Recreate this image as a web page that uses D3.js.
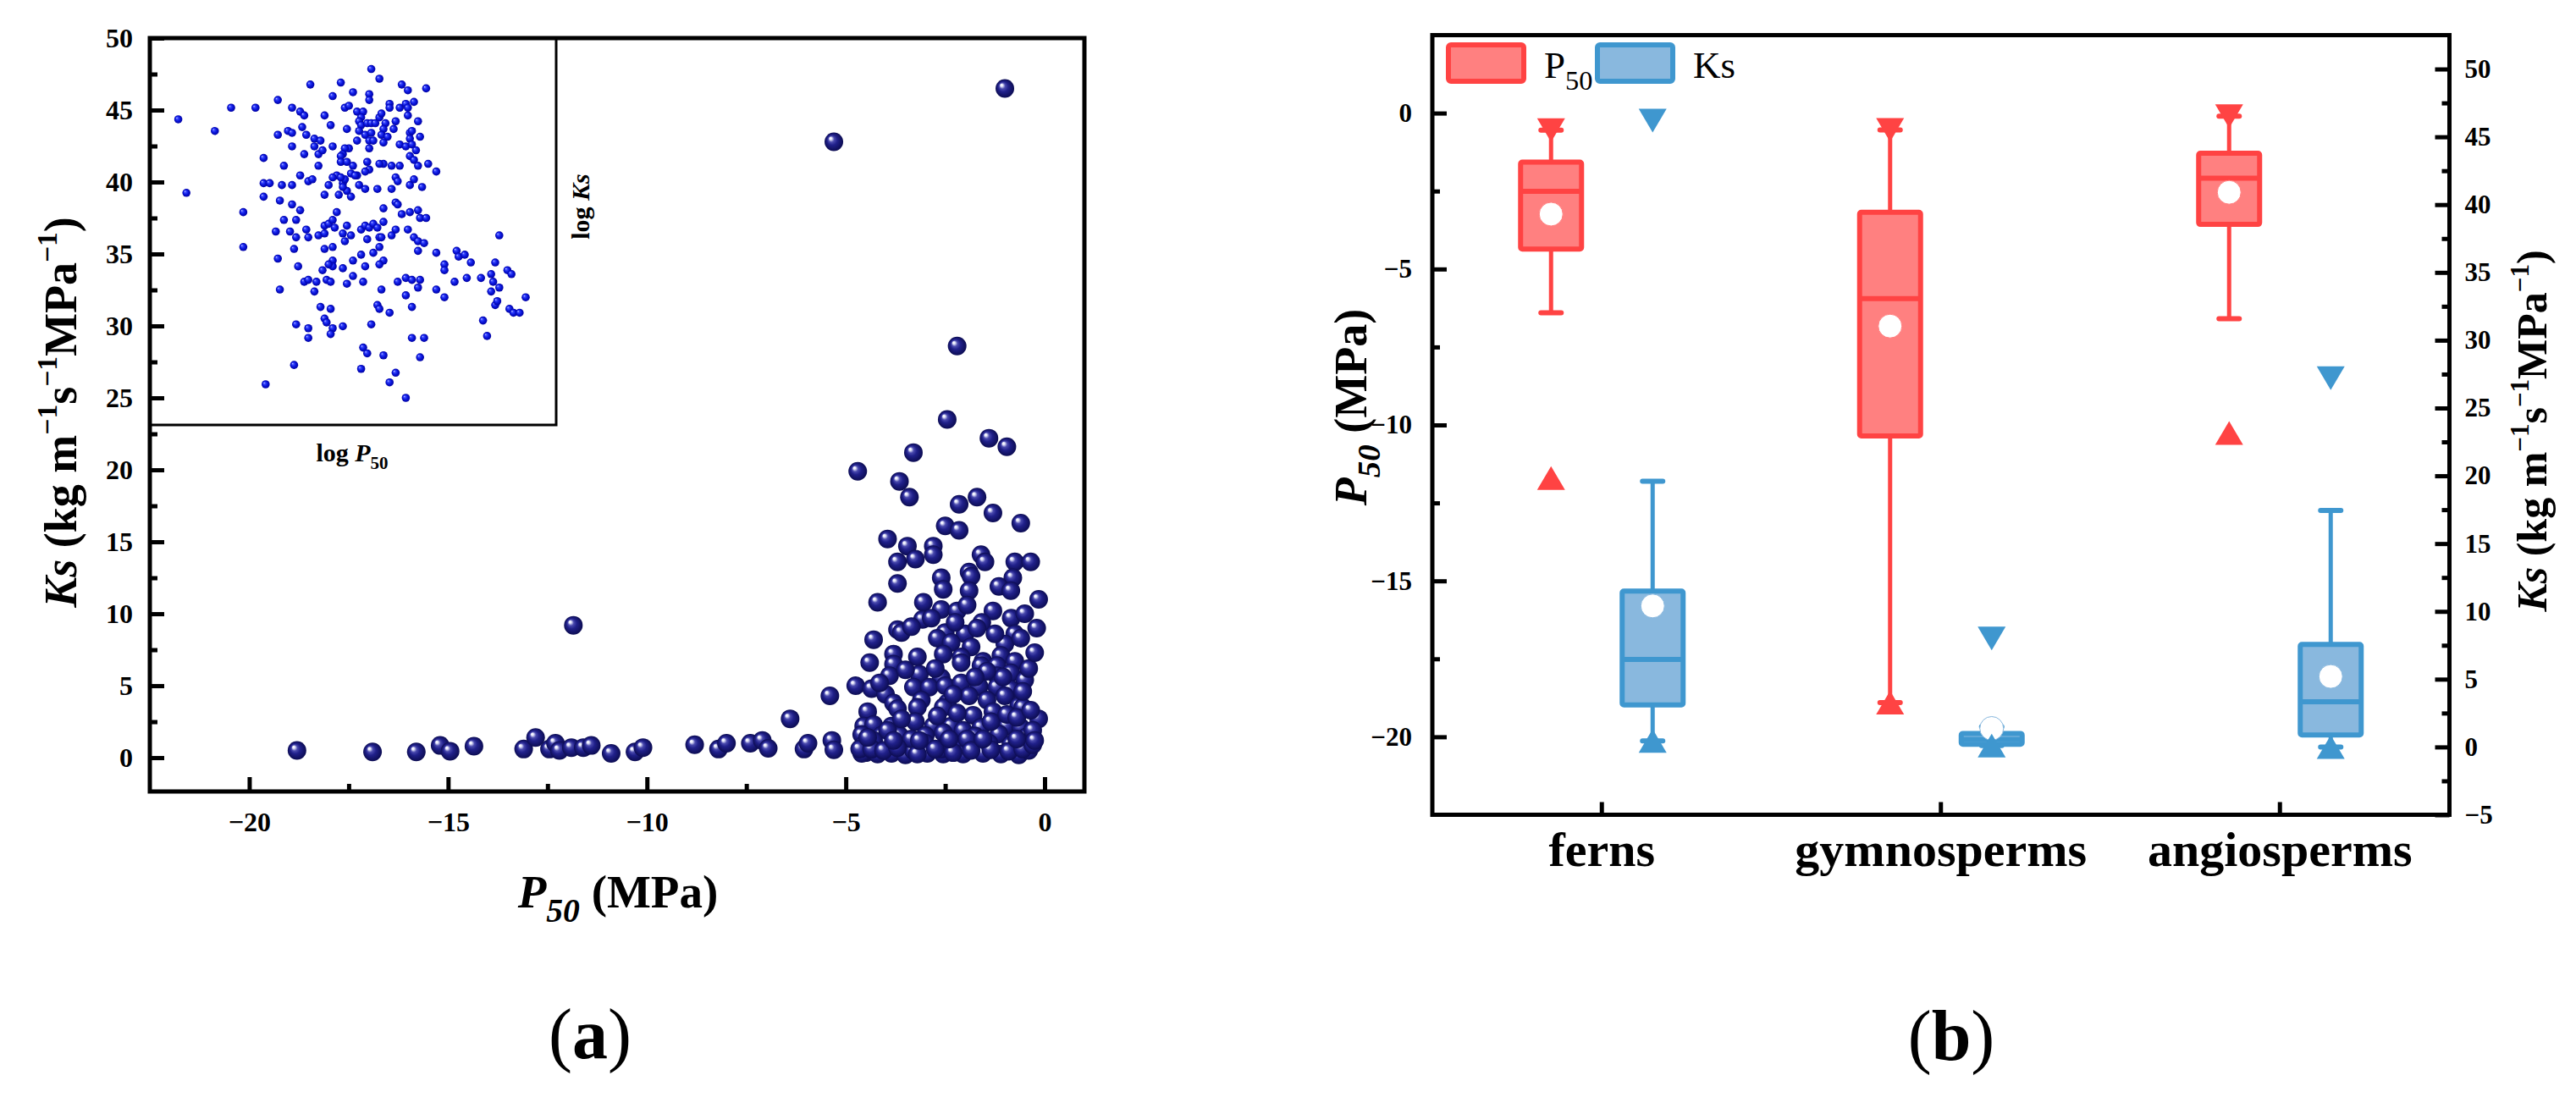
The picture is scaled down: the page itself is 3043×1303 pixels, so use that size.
<!DOCTYPE html>
<html>
<head>
<meta charset="utf-8">
<script src="https://cdn.jsdelivr.net/npm/d3@7"></script>
<style>
  body { margin: 0; background: #fff; }
  svg { display: block; }
  text { font-family: "Liberation Serif", "Times New Roman", serif; fill: #000; }
</style>
</head>
<body>
<svg id="chart" width="3043" height="1303"></svg>
<script>
// ---- data (a): P50 (MPa) vs Ks ----
const mainPoints = [
  [-18.8,0.5],[-16.9,0.4],[-15.8,0.4],[-15.2,0.85],[-14.95,0.45],[-14.35,0.8],[-13.1,0.6],[-12.8,1.4],
  [-12.45,0.6],[-12.3,1.0],[-12.2,0.5],[-11.9,0.7],[-11.6,0.7],[-11.4,0.85],[-10.9,0.3],[-10.3,0.4],
  [-10.1,0.7],[-8.8,0.9],[-8.2,0.6],[-8.0,1.0],[-7.4,1.0],[-7.1,1.2],[-6.95,0.65],[-6.4,2.7],
  [-6.05,0.6],[-5.95,1.0],[-5.4,4.3],[-5.35,1.2],[-5.3,0.55],[-4.75,5.0],[-11.85,9.2],[-5.3,42.8],[-1.0,46.5],
  [-2.2,28.6],[-2.45,23.5],[-1.4,22.2],[-0.95,21.6],[-3.3,21.2],[-4.7,19.9],[-3.65,19.2],[-3.4,18.1],
  [-1.7,18.1],[-2.15,17.6],[-1.3,17.0],[-0.6,16.3],[-2.5,16.1],[-2.15,15.8],[-3.95,15.2],[-3.45,14.7],
  [-2.8,14.7],[-3.7,13.6],[-3.25,13.8],[-2.8,14.1],[-1.6,14.1],[-1.5,13.6],[-0.75,13.6],[-0.35,13.6],
  [-1.9,12.9],[-1.85,12.6],[-2.6,12.5],[-0.8,12.5],[-3.7,12.1],[-2.55,11.7],[-1.9,11.6],[-1.15,11.9],
  [-0.85,11.6],[-4.2,10.8],[-3.05,10.8],[-0.15,11.0],[-2.6,10.3],[-2.2,10.2],[-1.95,10.6],[-1.3,10.2],
  [-3.07,9.6],[-2.85,9.7],[-1.58,9.4],[-0.84,9.7],[-3.7,8.9],[-3.6,8.7],[-2.5,8.7],[-2.0,8.6],
  [-0.2,9.0],[-0.75,8.6],[-4.3,8.2],[-2.7,8.3],[-2.35,8.0],[-1.85,7.7],[-1.0,7.9],[-0.6,8.3],
  [-3.8,7.2],[-3.2,7.0],[-2.55,7.2],[-2.1,7.0],[-1.55,6.7],[-1.1,7.1],[-4.4,6.6],[-3.8,6.5],
  [-2.1,6.6],[-1.6,6.4],[-1.2,6.4],[-0.75,6.7],[-3.9,5.7],[-3.15,5.8],[-2.6,5.55],[-1.2,5.7],
  [-0.85,5.9],[-0.5,5.4],[-4.35,4.8],[-3.3,4.9],[-2.9,4.9],[-2.5,5.0],[-2.1,5.2],[-1.65,4.95],
  [-1.2,4.9],[-0.85,4.75],[-4.0,4.4],[-3.8,3.8],[-3.1,4.0],[-2.45,3.8],[-1.9,4.3],[-1.45,4.0],
  [-1.0,4.3],[-0.65,3.6],[-4.45,3.2],[-3.7,3.4],[-3.2,3.5],[-2.55,3.5],[-1.8,2.95],[-1.3,3.2],
  [-0.55,3.5],[-0.15,2.7],[-4.55,2.2],[-4.3,2.3],[-3.85,2.2],[-3.25,2.5],[-2.8,2.2],[-2.35,2.2],
  [-2.05,1.9],[-1.6,2.1],[-0.95,2.2],[-0.6,2.1],[-4.6,1.6],[-4.1,1.55],[-3.65,1.55],[-3.0,1.55],
  [-2.55,1.75],[-1.75,1.5],[-1.15,1.65],[-0.45,1.45],[-4.55,0.9],[-4.0,0.95],[-3.45,0.9],[-3.0,1.0],
  [-2.25,0.9],[-1.7,1.0],[-0.85,0.9],[-0.5,1.0],[-4.5,0.35],[-4.2,0.25],[-3.85,0.3],[-3.5,0.2],
  [-2.95,0.3],[-2.55,0.25],[-2.05,0.25],[-1.55,0.3],[-1.1,0.25],[-0.65,0.2],[-2.6,0.6],[-3.3,0.5],
  [-4.6,0.3],[-4.3,1.2],[-3.95,1.9],[-3.6,2.7],[-3.35,1.3],[-2.7,2.9],[-2.2,3.1],[-1.95,1.3],
  [-1.4,1.0],[-1.35,2.5],[-0.95,3.0],[-0.7,2.8],[-0.4,0.5],[-0.3,1.9],[-0.35,3.3],[-0.55,4.6],
  [-1.05,5.6],[-1.45,6.0],[-1.75,5.6],[-2.3,4.4],[-2.75,6.2],[-3.5,6.1],[-4.15,5.2],[-0.4,6.2],
  [-0.25,7.3],[-1.25,8.6],[-1.7,9.0],[-2.25,9.4],[-3.35,9.1],[-0.5,10.0],
  [-4.65,0.6],[-4.35,0.6],[-4.05,0.5],[-3.7,0.7],[-3.2,0.25],[-2.75,0.6],[-2.3,0.35],[-1.85,0.5],
  [-1.35,0.55],[-0.9,0.45],[-0.55,0.6],[-0.3,0.9],[-4.45,1.4],[-3.8,1.2],[-3.15,1.2],[-2.4,1.3],
  [-1.55,1.3],[-0.7,1.3],[-0.25,1.2]
];

// inset: log P50 vs log Ks, no ticks, so kept in relative units (0-100 of the inset box)
const insetPoints = [
  [7,79],[16,76],[20,82],[26,82],[9,60],[23,55],[23,46],[28,69],[31.5,84],[31.5,75],[35,82],[37,81],
  [38,80],[37.5,77],[34,76],[35,75.5],[38.5,75],[35,72],[38,70],[40.5,74],[42,73.5],[40.5,72],[41.5,70],
  [42.5,71],[43,80],[44.5,77.5],[45,85],[39.5,88],[47,88.5],[50,86],[54,85.5],[54,84],[54.5,92],
  [56.5,89.5],[62,88],[63.5,86.5],[68,87],[48,82],[49,82.5],[51,81],[52.5,81],[52,79.5],[51.5,78.5],
  [52,77.5],[53.5,78],[54.5,78],[55.5,78],[56.5,79.5],[57,80.5],[58,78],[57.5,76.5],[60,76.5],
  [60.5,78.5],[59,83],[59,82],[61.5,82],[63,83],[63.5,82],[65,83.5],[63.5,80],[66,78.5],[48.5,76.5],
  [51.5,76],[53,75],[54.5,75.5],[57,75],[58.5,74.5],[57.5,73],[54,73.5],[51,73.5],[54,71.5],[55,73.5],
  [61.5,72.5],[63,72],[64,75.5],[64.5,76],[64,74],[66.5,74.5],[64.5,72.5],[65.5,71],[64,69.5],
  [65,68.5],[66,67],[68.5,67.5],[70.5,65.5],[61.5,67],[59.5,67],[57.5,67.5],[56.5,67.5],[53.5,68],
  [54,66],[53,65.5],[49,71.5],[48,71.5],[47.5,70],[47,69.5],[47,68],[48.5,68],[50,67],[45,72],
  [41.5,67],[33,67],[37,64.5],[35,62],[32.5,62],[28,62.5],[29.5,62.5],[28,59],[32,58],[35,57],
  [37,55.5],[39,63],[40,63.5],[43,59.5],[44,62],[46.5,59.5],[48.5,60.5],[49.5,59],[46,64.5],
  [47.5,62.5],[48,63.5],[49.5,65],[51,64.5],[51.5,62],[53,61],[56,61],[59.5,61],[60.5,64],[61,63],
  [64,62],[65,63.5],[67,61.5],[64,55],[62,54.5],[60.5,57.5],[61,57],[57.5,56],[66,55.5],[66.5,53.5],
  [68,53.5],[33,53],[36,53],[31,50],[34.5,50],[36,48.5],[38.5,50.5],[39,48.5],[41.5,49],[43,49.5],
  [43,51.5],[44,52],[45,53],[46,55],[45.5,51],[47.5,49.5],[48.5,51.5],[49.5,49],[52,50.5],[53,51.5],
  [54,51],[55,52],[56,51],[56.5,48.5],[57,48.5],[57.5,52.5],[60.5,50.5],[59.5,49],[63.5,50.5],
  [65,48.5],[66,47.5],[67.5,47],[66,45],[56.5,46],[57.5,42.5],[56.5,41.5],[55,44.5],[53.5,48],
  [52,44],[53,41],[50,42.5],[48,47.5],[45,46],[43,45.5],[35.5,45.5],[31.5,43],[36.5,41],[45,42.5],
  [45,41],[44,41.5],[47.5,40.5],[42.5,40],[50,38.5],[48.5,36.5],[43.5,37.5],[44.5,37],[38,37],
  [39,37.5],[41,37],[32,35],[40.5,34.5],[52.5,37],[57,35],[61,37],[63,38],[64.5,37.5],[66.5,37.5],
  [66,35.5],[63,33.5],[64.5,30.5],[59,29],[56,31],[56.5,30],[54.5,26],[70.5,35],[72.5,33],[70.5,44.5],
  [72.5,41.5],[72.5,40],[75,37],[75.5,45],[76,43.5],[77.5,44],[79,42],[78,38],[81.5,38],[84,39],
  [84.5,37],[85,42],[84,34.5],[86,35.5],[88,40],[89,39],[86,49],[85,31],[85.5,32],[88.5,30],
  [89.5,29],[91,29],[92.5,33],[82,27],[83,23],[42,30.5],[44.5,30],[43,27.5],[43.5,26.5],[45,25],
  [47.5,25.5],[44.5,23.5],[36,26],[39,25],[39,22.5],[35.5,15.5],[28.5,10.5],[52.5,20],[53.5,18.5],
  [57.5,18],[66.5,17.5],[52,14.5],[60.5,13.5],[59,11],[63,7],[64.5,22.5],[67.5,22.5],[45,64],
  [47.5,61.5],[50.5,64.5],[47,64]
];

const xTicksA = [-20, -15, -10, -5, 0];
const xMinorA = [-17.5, -12.5, -7.5, -2.5];
const yTicksA = [0, 5, 10, 15, 20, 25, 30, 35, 40, 45, 50];
const yMinorA = [2.5, 7.5, 12.5, 17.5, 22.5, 27.5, 32.5, 37.5, 42.5, 47.5];

// ---- data (b): box statistics per group ----
const groups = ["ferns", "gymnosperms", "angiosperms"];
const p50Stats = [
  {min: -11.7, lo: -6.4, q1: -4.36, med: -2.51, q3: -1.57, hi: -0.55, max: -0.55, mean: -3.24},
  {min: -18.9, lo: -18.9, q1: -10.35, med: -5.95, q3: -3.18, hi: -0.54, max: -0.54, mean: -6.83},
  {min: -10.26, lo: -6.59, q1: -3.57, med: -2.09, q3: -1.29, hi: -0.1, max: -0.1, mean: -2.54}
];
const ksStats = [
  {min: 0.45, lo: 0.45, q1: 3.1, med: 6.45, q3: 11.5, hi: 19.6, max: 46.2, mean: 10.4},
  {min: 0.1, lo: 0.1, q1: 0.2, med: 0.55, q3: 1.0, hi: 1.5, max: 8.0, mean: 1.37},
  {min: 0.0, lo: 0.0, q1: 0.88, med: 3.33, q3: 7.56, hi: 17.45, max: 27.2, mean: 5.2}
];
const p50Ticks = [-20, -15, -10, -5, 0];
const p50Minor = [-17.5, -12.5, -7.5, -2.5];
const ksTicks = [-5, 0, 5, 10, 15, 20, 25, 30, 35, 40, 45, 50];
const ksMinor = [-2.5, 2.5, 7.5, 12.5, 17.5, 22.5, 27.5, 32.5, 37.5, 42.5, 47.5];

const red = {stroke: "#ff4343", fill: "#ff8080"};
const blue = {stroke: "#3f97cf", fill: "#89b8de"};

let svg = d3.select("#chart");
let defs = svg.append("defs");

function ballGradient(id, stops) {
  let g = defs.append("radialGradient").attr("id", id)
    .attr("cx", "50%").attr("cy", "50%").attr("r", "50%")
    .attr("fx", "30%").attr("fy", "30%");
  stops.forEach(s => g.append("stop").attr("offset", s[0]).attr("stop-color", s[1]));
}
ballGradient("ballMain", [[0, "#ffffff"], [0.12, "#eef0ff"], [0.32, "#4a4aae"], [0.55, "#20208a"], [1, "#0c0c52"]]);
ballGradient("ballInset", [[0, "#c8ceff"], [0.25, "#3a48ff"], [0.6, "#0a16dc"], [1, "#0000a0"]]);

function styleAxis(g, size) {
  g.attr("font-family", "Liberation Serif").attr("font-size", size).attr("font-weight", "bold");
  g.select(".domain").remove();
  g.selectAll(".tick line").attr("stroke", "#000").attr("stroke-width", 5);
  g.selectAll(".tick text").attr("fill", "#000");
}

// rotated / sub-/superscript labels
function richText(parent, segs, size) {
  let t = parent.append("text").style("font-size", size + "px");
  let shift = 0;
  segs.forEach(s => {
    let sp = t.append("tspan").text(s.t);
    let want = s.sup ? -0.42 * size : s.sub ? 0.3 * size : 0;
    if (want !== shift) { sp.attr("dy", want - shift); shift = want; }
    if (s.sup || s.sub) sp.style("font-size", (s.small || 0.62) * size + "px");
    if (s.i) sp.style("font-style", "italic");
    sp.style("font-weight", s.b === false ? "normal" : "bold");
  });
  return t;
}

const ksLabelSegs = [
  {t: "Ks", i: true}, {t: " (kg m"}, {t: "−1", sup: true}, {t: "s"}, {t: "−1", sup: true},
  {t: "MPa"}, {t: "−1", sup: true}, {t: ")"}
];

// ================= panel (a) =================
const ax = {left: 177, right: 1281, top: 45, bottom: 935};
let xA = d3.scaleLinear().domain([-22.5, 1.0]).range([ax.left, ax.right]);
let yA = d3.scaleLinear().domain([-2.35, 50]).range([ax.bottom, ax.top]);

let pa = svg.append("g").attr("class", "panel-a");

pa.append("g").selectAll("circle")
  .data(mainPoints)
  .enter().append("circle")
  .attr("cx", d => xA(d[0]))
  .attr("cy", d => yA(d[1]))
  .attr("r", 11)
  .attr("fill", "url(#ballMain)");

// inset
const inset = {left: ax.left, right: 657, top: ax.top, bottom: 502};
let xI = d3.scaleLinear().domain([0, 100]).range([inset.left, inset.right]);
let yI = d3.scaleLinear().domain([0, 100]).range([inset.bottom, inset.top]);

pa.append("rect")
  .attr("x", inset.left).attr("y", inset.top)
  .attr("width", inset.right - inset.left).attr("height", inset.bottom - inset.top)
  .attr("fill", "#fff").attr("stroke", "#000").attr("stroke-width", 3);

pa.append("g").selectAll("circle")
  .data(insetPoints)
  .enter().append("circle")
  .attr("cx", d => xI(d[0]))
  .attr("cy", d => yI(d[1]))
  .attr("r", 4.8)
  .attr("fill", "url(#ballInset)");

richText(pa, [{t: "log "}, {t: "P", i: true}, {t: "50", sub: true, small: 0.7}], 30)
  .attr("x", 416).attr("y", 545).attr("text-anchor", "middle");
richText(pa, [{t: "log "}, {t: "Ks", i: true}], 30)
  .attr("transform", "translate(696,244) rotate(-90)").attr("text-anchor", "middle");

// axes
pa.append("g").attr("transform", `translate(${ax.left},0)`)
  .call(d3.axisLeft(yA).tickValues(yTicksA).tickSize(-17).tickPadding(20).tickFormat(d3.format("d")))
  .call(g => styleAxis(g, 32));
pa.append("g").attr("transform", `translate(${ax.left},0)`)
  .call(d3.axisLeft(yA).tickValues(yMinorA).tickSize(-9).tickFormat(""))
  .call(g => styleAxis(g, 32));
pa.append("g").attr("transform", `translate(0,${ax.bottom})`)
  .call(d3.axisBottom(xA).tickValues(xTicksA).tickSize(-17).tickPadding(24).tickFormat(d3.format("d")))
  .call(g => styleAxis(g, 32));
pa.append("g").attr("transform", `translate(0,${ax.bottom})`)
  .call(d3.axisBottom(xA).tickValues(xMinorA).tickSize(-9).tickFormat(""))
  .call(g => styleAxis(g, 32));

pa.append("rect")
  .attr("x", ax.left).attr("y", ax.top)
  .attr("width", ax.right - ax.left).attr("height", ax.bottom - ax.top)
  .attr("fill", "none").attr("stroke", "#000").attr("stroke-width", 5);

richText(pa, ksLabelSegs, 54)
  .attr("transform", "translate(90,487) rotate(-90)").attr("text-anchor", "middle");
richText(pa, [{t: "P", i: true}, {t: "50", sub: true, i: true, small: 0.72}, {t: " (MPa)"}], 55)
  .attr("x", 730).attr("y", 1072).attr("text-anchor", "middle");

richText(pa, [{t: "(", b: false}, {t: "a"}, {t: ")", b: false}], 84)
  .attr("x", 697).attr("y", 1250).attr("text-anchor", "middle");

// ================= panel (b) =================
const bx = {left: 1692, right: 2893.5, top: 41.5, bottom: 962.5};
let xB = d3.scaleBand().domain(groups).range([bx.left, bx.right]);
let sub = d3.scaleBand().domain(["P50", "Ks"]).range([-120, 120]);
let yP = d3.scaleLinear().domain([-22.5, 2.5]).range([bx.bottom, bx.top]);
let yK = d3.scaleLinear().domain([-5, 52.5]).range([bx.bottom, bx.top]);

let pb = svg.append("g").attr("class", "panel-b");

function tri(cx, cy, up) {
  const w = 16.5, h = 14;
  return up
    ? `M${cx - w},${cy + h}L${cx + w},${cy + h}L${cx},${cy - h}Z`
    : `M${cx - w},${cy - h}L${cx + w},${cy - h}L${cx},${cy + h}Z`;
}

function drawBoxes(stats, key, y, col) {
  stats.forEach((s, i) => {
    const cx = xB(groups[i]) + xB.bandwidth() / 2 + sub(key) + sub.bandwidth() / 2;
    let g = pb.append("g").attr("class", "box " + key);
    g.append("line")
      .attr("x1", cx).attr("x2", cx).attr("y1", y(s.lo)).attr("y2", y(s.hi))
      .attr("stroke", col.stroke).attr("stroke-width", 5);
    [s.lo, s.hi].forEach(v => g.append("line")
      .attr("x1", cx - 12).attr("x2", cx + 12).attr("y1", y(v)).attr("y2", y(v))
      .attr("stroke", col.stroke).attr("stroke-width", 6).attr("stroke-linecap", "round"));
    g.append("rect")
      .attr("x", cx - 36).attr("width", 72)
      .attr("y", y(s.q3)).attr("height", Math.max(y(s.q1) - y(s.q3), 1))
      .attr("rx", 2)
      .attr("fill", col.fill).attr("stroke", col.stroke).attr("stroke-width", 6)
      .attr("stroke-linejoin", "round");
    g.append("line")
      .attr("x1", cx - 36).attr("x2", cx + 36).attr("y1", y(s.med)).attr("y2", y(s.med))
      .attr("stroke", col.stroke).attr("stroke-width", 6);
    g.append("circle")
      .attr("cx", cx).attr("cy", y(s.mean)).attr("r", 14)
      .attr("fill", "#fff").attr("stroke", col.fill).attr("stroke-width", 1);
    g.append("path").attr("d", tri(cx, y(s.min), true)).attr("fill", col.stroke);
    g.append("path").attr("d", tri(cx, y(s.max), false)).attr("fill", col.stroke);
  });
}
drawBoxes(p50Stats, "P50", yP, red);
drawBoxes(ksStats, "Ks", yK, blue);

// axes
pb.append("g").attr("transform", `translate(${bx.left},0)`)
  .call(d3.axisLeft(yP).tickValues(p50Ticks).tickSize(-17).tickPadding(24).tickFormat(d3.format("d")))
  .call(g => styleAxis(g, 31));
pb.append("g").attr("transform", `translate(${bx.left},0)`)
  .call(d3.axisLeft(yP).tickValues(p50Minor).tickSize(-9).tickFormat(""))
  .call(g => styleAxis(g, 31));
pb.append("g").attr("transform", `translate(${bx.right},0)`)
  .call(d3.axisRight(yK).tickValues(ksTicks).tickSize(-17).tickPadding(18).tickFormat(d3.format("d")))
  .call(g => styleAxis(g, 31));
pb.append("g").attr("transform", `translate(${bx.right},0)`)
  .call(d3.axisRight(yK).tickValues(ksMinor).tickSize(-9).tickFormat(""))
  .call(g => styleAxis(g, 31));
pb.append("g").attr("transform", `translate(0,${bx.bottom})`)
  .call(d3.axisBottom(xB).tickSize(-15).tickPadding(19))
  .call(g => styleAxis(g, 58));

pb.append("rect")
  .attr("x", bx.left).attr("y", bx.top)
  .attr("width", bx.right - bx.left).attr("height", bx.bottom - bx.top)
  .attr("fill", "none").attr("stroke", "#000").attr("stroke-width", 5);

// legend
const legendItems = [
  {col: red, x: 1711, segs: [{t: "P", b: false}, {t: "50", sub: true, b: false, small: 0.72}]},
  {col: blue, x: 1887, segs: [{t: "Ks", b: false}]}
];
legendItems.forEach(d => {
  pb.append("rect")
    .attr("x", d.x).attr("y", 53).attr("width", 89).attr("height", 43).attr("rx", 3)
    .attr("fill", d.col.fill).attr("stroke", d.col.stroke).attr("stroke-width", 6);
  richText(pb, d.segs, 45).attr("x", d.x + 113).attr("y", 92);
});

richText(pb, [{t: "P", i: true}, {t: "50", sub: true, i: true, small: 0.72}, {t: " (MPa)"}], 54)
  .attr("transform", "translate(1614,481) rotate(-90)").attr("text-anchor", "middle");
richText(pb, ksLabelSegs, 50)
  .attr("transform", "translate(3008,509) rotate(-90)").attr("text-anchor", "middle");

richText(pb, [{t: "(", b: false}, {t: "b"}, {t: ")", b: false}], 84)
  .attr("x", 2305).attr("y", 1252).attr("text-anchor", "middle");
</script>
</body>
</html>
